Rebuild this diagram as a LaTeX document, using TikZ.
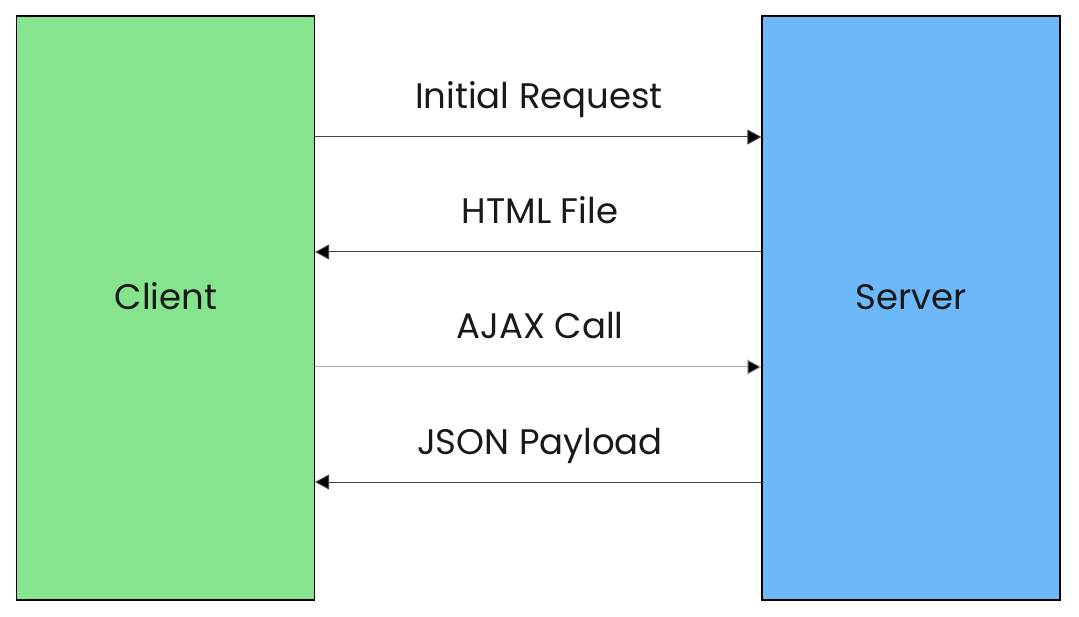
\documentclass[tikz,border=0pt]{standalone}
\usepackage{fontspec}
\setmainfont{Poppins}
\usetikzlibrary{arrows.meta}
\definecolor{clientgreen}{HTML}{86E48E}
\definecolor{serverblue}{HTML}{6CB8F8}
\definecolor{linegray}{HTML}{444444}
\definecolor{lightline}{HTML}{A8A8A8}
\tikzset{
  x=1pt, y=-1pt,
  party/.style={draw=black, line width=1.2pt, minimum width=298pt, minimum height=584pt, inner sep=0pt},
  lbl/.style={font=\fontsize{35.5}{42}\selectfont, anchor=base, inner sep=0pt, text=black!90},
  msg/.style={draw=linegray, line width=1pt, -{Triangle[length=14pt, width=15pt, fill=black]}},
}
\begin{document}
\begin{tikzpicture}
\useasboundingbox (0,0) rectangle (1079,617);
% the two parties
\node[party, fill=clientgreen] (client) at (165.5,308) {};
\node[party, fill=serverblue] (server) at (911,308) {};
\node[lbl] (clientlbl) at (166,310) {Client};
\node[lbl] (serverlbl) at (911,310) {Server};
% message endpoints on the box edges
\coordinate (c1) at (client.east |- 0,137);
\coordinate (s1) at (server.west |- 0,137);
\coordinate (c2) at (client.east |- 0,252);
\coordinate (s2) at (server.west |- 0,252);
\coordinate (c3) at (client.east |- 0,367);
\coordinate (s3) at (server.west |- 0,367);
\coordinate (c4) at (client.east |- 0,482);
\coordinate (s4) at (server.west |- 0,482);
% messages
\draw[msg] (c1) -- (s1);
\draw[msg] (s2) -- (c2);
\draw[msg, draw=lightline] (c3) -- (s3);
\draw[msg] (s4) -- (c4);
% message labels
\node[lbl] (m1) at (539,109) {Initial Request};
\node[lbl] (m2) at (540,224) {HTML File};
\node[lbl] (m3) at (540,339) {AJAX Call};
\node[lbl] (m4) at (540,454) {JSON Payload};
\end{tikzpicture}
\end{document}
